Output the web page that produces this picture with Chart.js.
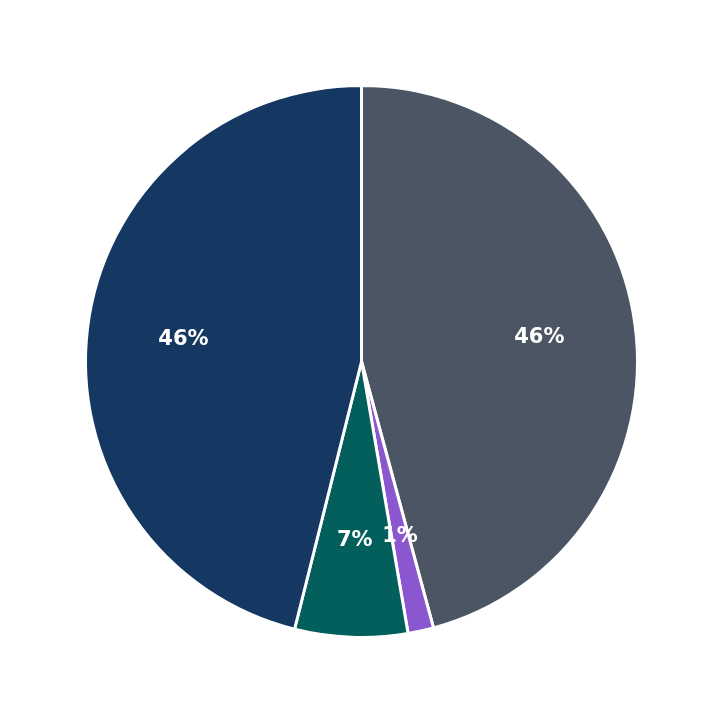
<!DOCTYPE html>
<html><head><meta charset="utf-8">
<script src="https://cdn.jsdelivr.net/npm/chart.js@4"></script>
<style>html,body{margin:0;padding:0;background:#fff}#w{width:723px;height:723px}</style>
</head><body><div id="w"><canvas id="c"></canvas></div>
<script>
const categories = ["A", "B", "C", "D"];
const values = [45.8, 1.5, 6.6, 46.1];
const labels = ["46%", "1%", "7%", "46%"];
const colors = ["#4b5563", "#8b57d0", "#035f5c", "#143862"];

const labelPlugin = {
  id: 'lbl',
  afterDatasetsDraw(chart) {
    const ctx = chart.ctx;
    const meta = chart.getDatasetMeta(0);
    ctx.save();
    ctx.fillStyle = '#fff';
    ctx.font = 'bold 21px "DejaVu Sans"';
    ctx.textAlign = 'center';
    ctx.textBaseline = 'middle';
    meta.data.forEach((arc, i) => {
      const a = (arc.startAngle + arc.endAngle) / 2;
      const r = arc.outerRadius * 0.65;
      ctx.fillText(labels[i], arc.x + Math.cos(a) * r, arc.y + Math.sin(a) * r);
    });
    ctx.restore();
  }
};

new Chart(document.getElementById('c'), {
  type: 'pie',
  data: { labels: categories, datasets: [{ data: values, backgroundColor: colors, borderColor: '#fff', borderWidth: 3 }] },
  options: {
    responsive: true, maintainAspectRatio: false, animation: false,
    layout: { padding: 84 },
    plugins: { legend: { display: false }, tooltip: { enabled: false } }
  },
  plugins: [labelPlugin]
});
</script></body></html>
